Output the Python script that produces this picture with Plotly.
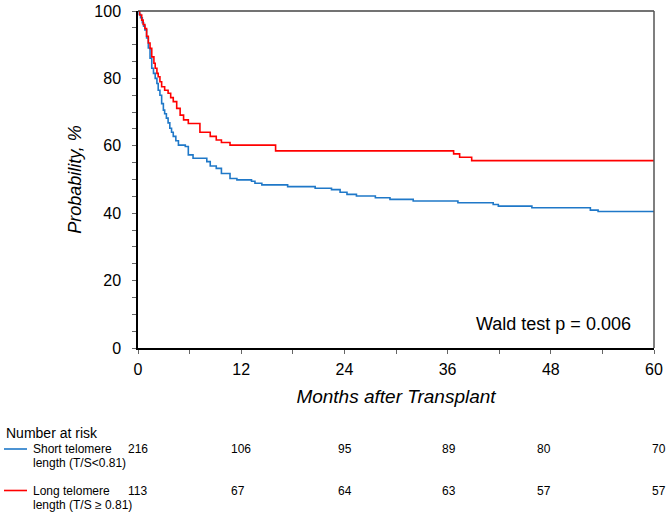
import plotly.graph_objects as go

# ---------------- data ----------------
short_t = [0, 0.15, 0.3, 0.5, 0.65, 0.8, 1.0, 1.2, 1.4, 1.6, 1.8, 2.0, 2.2, 2.35, 2.55,
           2.75, 2.95, 3.1, 3.3, 3.5, 3.7, 3.9, 4.1, 4.4, 4.7, 5.5, 5.85, 6.4, 8.0, 8.4,
           9.1, 9.7, 10.7, 11.5, 13.2, 13.6, 14.4, 17.4, 20.6, 22.5, 23.5, 24.3, 25.4,
           27.6, 29.3, 32.0, 37.2, 41.3, 41.9, 45.8, 52.6, 53.5, 60]
short_s = [100, 99, 98, 96.5, 95.5, 94.4, 92, 89, 86, 83, 81.5, 80, 78.5, 76.5, 75,
           72.5, 70.6, 69.5, 68.2, 66.8, 65.2, 64, 62.8, 61.5, 60.2, 59.8, 57.3, 56.3, 55.3, 54,
           53.3, 51.8, 50.3, 49.9, 49.5, 48.9, 48.4, 47.9, 47.4, 47.0, 46.2, 45.6, 45.1,
           44.6, 44.1, 43.6, 43.1, 42.6, 42.1, 41.6, 40.9, 40.5, 40.5]

long_t = [0, 0.2, 0.43, 0.6, 0.8, 1.0, 1.2, 1.4, 1.6, 1.85, 2.0, 2.2, 2.35, 2.55, 2.75,
          3.1, 3.5, 3.8, 4.1, 4.5, 4.9, 5.3, 5.85, 7.2, 8.4, 9.1, 9.7, 10.7, 16.0, 36.7,
          37.4, 38.8, 60]
long_s = [100, 98.8, 97.3, 96.0, 94.8, 92.5, 90.5, 88.9, 86.4, 84.5, 83.0, 81.5, 80.5, 79.0, 77.5,
          76.5, 75.6, 74.3, 73.1, 71.1, 69.1, 67.7, 66.6, 64.0, 62.8, 61.7, 61.0, 60.2, 58.5, 57.6,
          56.6, 55.6, 55.6]

x_ticks = [0, 12, 24, 36, 48, 60]
y_ticks = [0, 20, 40, 60, 80, 100]

risk_short = [216, 106, 95, 89, 80, 70]
risk_long = [113, 67, 64, 63, 57, 57]
short_label = ["Short telomere", "length (T/S<0.81)"]
long_label = ["Long telomere", "length (T/S \u2265 0.81)"]

BLUE = "#1f78c8"
RED = "#ff0000"
FONT = "Arial, Liberation Sans, sans-serif"

# ---------------- geometry helpers (pixel -> paper) ----------------
W, H = 667, 516
L, R, T, B = 138, 654, 11, 348


def px(xp):
    return (xp - L) / (R - L)


def py(yp):
    return (B - yp) / (B - T)


fig = go.Figure()
fig.add_trace(go.Scatter(x=short_t, y=short_s, mode="lines", line=dict(color=BLUE, width=1.6, shape="hv"),
                         showlegend=False, cliponaxis=False))
fig.add_trace(go.Scatter(x=long_t, y=long_s, mode="lines", line=dict(color=RED, width=1.6, shape="hv"),
                         showlegend=False, cliponaxis=False))

fig.update_layout(
    width=W, height=H,
    margin=dict(l=L, r=W - R, t=T, b=H - B, autoexpand=False),
    plot_bgcolor="white", paper_bgcolor="white",
    font=dict(family=FONT, color="black"),
    showlegend=False,
)
fig.update_xaxes(
    range=[0, 60], tickvals=x_ticks, ticktext=[str(v) for v in x_ticks],
    showgrid=False, zeroline=False, showline=True, linecolor="black", linewidth=1.5,
    ticks="outside", ticklen=4, tickcolor="#666", tickwidth=1, automargin=False,
    minor=dict(dtick=6, tick0=0, ticks="outside", ticklen=4, tickcolor="#666", tickwidth=1, showgrid=False),
    tickfont=dict(size=16, family=FONT), ticklabelstandoff=2,
    title=dict(text="<i>Months after Transplant</i>", font=dict(size=19, family=FONT), standoff=13),
)
fig.update_yaxes(
    range=[0, 100], tickvals=y_ticks, ticktext=[str(v) for v in y_ticks],
    showgrid=False, zeroline=False, showline=True, linecolor="black", linewidth=1.5,
    ticks="outside", ticklen=4, tickcolor="#666", tickwidth=1, automargin=False,
    minor=dict(dtick=5, tick0=0, ticks="outside", ticklen=4, tickcolor="#666", tickwidth=1, showgrid=False),
    tickfont=dict(size=16, family=FONT), ticklabelstandoff=8,
    title=dict(text="<i>Probability, %</i>", font=dict(size=18, family=FONT), standoff=8),
)

# top / right frame
fig.add_shape(type="line", xref="paper", yref="paper", x0=0, x1=1, y0=1, y1=1,
              line=dict(color="#444", width=1.5))
fig.add_shape(type="line", xref="paper", yref="paper", x0=1, x1=1, y0=0, y1=1,
              line=dict(color="#555", width=1.5))

# Wald test annotation
fig.add_annotation(text="Wald test p = 0.006", xref="paper", yref="paper", x=px(633), y=py(324),
                   xanchor="right", yanchor="middle", showarrow=False, font=dict(size=18, family=FONT))

# number at risk table
fig.add_annotation(text="Number at risk", xref="paper", yref="paper", x=px(4), y=py(433),
                   xanchor="left", yanchor="middle", showarrow=False, font=dict(size=14, family=FONT))

rows = [(short_label, risk_short, BLUE, 449), (long_label, risk_long, RED, 490.5)]
col_x = [126, 229, 336, 440, 535, 650]
for label, counts, col, yrow in rows:
    fig.add_shape(type="line", xref="paper", yref="paper", x0=px(4), x1=px(27), y0=py(yrow), y1=py(yrow),
                  line=dict(color=col, width=1.6))
    fig.add_annotation(text=label[0], xref="paper", yref="paper", x=px(31), y=py(yrow),
                       xanchor="left", yanchor="middle", showarrow=False, font=dict(size=12, family=FONT))
    fig.add_annotation(text=label[1], xref="paper", yref="paper", x=px(31), y=py(yrow + 14),
                       xanchor="left", yanchor="middle", showarrow=False, font=dict(size=12, family=FONT))
    for cx, n in zip(col_x, counts):
        fig.add_annotation(text=str(n), xref="paper", yref="paper", x=px(cx), y=py(yrow),
                           xanchor="left", yanchor="middle", showarrow=False, font=dict(size=12, family=FONT))

fig.write_html("out.html", config={"displayModeBar": False},
               post_script="document.body.style.margin='0';document.body.style.overflow='hidden';")
